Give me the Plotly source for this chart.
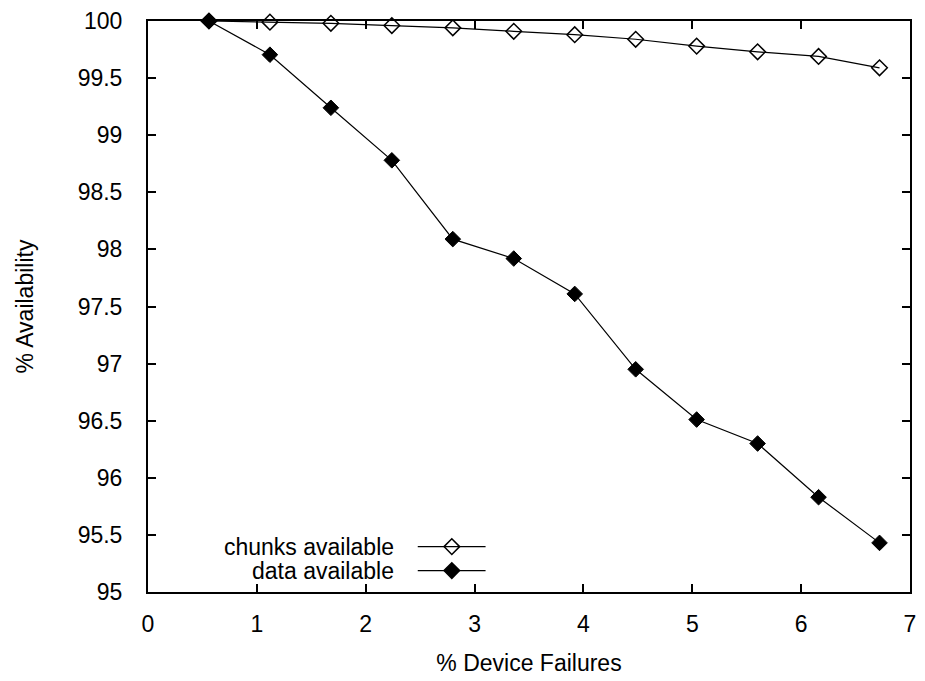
import plotly.graph_objects as go

device_failures = [0.56, 1.12, 1.68, 2.24, 2.80, 3.36, 3.92, 4.48, 5.04, 5.60, 6.16, 6.72]
chunks_available = [100.0, 99.99, 99.98, 99.96, 99.94, 99.91, 99.88, 99.84, 99.78, 99.73, 99.69, 99.59]
data_available = [100.0, 99.705, 99.24, 98.78, 98.09, 97.92, 97.61, 96.95, 96.51, 96.30, 95.83, 95.43]
series_names = ["chunks available", "data available"]
x_ticks = [0, 1, 2, 3, 4, 5, 6, 7]
y_ticks = [95, 95.5, 96, 96.5, 97, 97.5, 98, 98.5, 99, 99.5, 100]

FONT = "Liberation Sans, Arial, sans-serif"
FS = 23
fig = go.Figure()

fig.add_trace(go.Scatter(
    x=device_failures, y=chunks_available, mode="lines+markers", name=series_names[0],
    line=dict(color="black", width=1.2),
    marker=dict(symbol="diamond-open", size=12, color="black", line=dict(width=1.5, color="black")),
    cliponaxis=False, showlegend=False))
fig.add_trace(go.Scatter(
    x=device_failures, y=data_available, mode="lines+markers", name=series_names[1],
    line=dict(color="black", width=1.2),
    marker=dict(symbol="diamond", size=12, color="black", line=dict(width=1, color="black")),
    cliponaxis=False, showlegend=False))

# custom gnuplot-style legend (text left, sample right) on hidden overlay axes
leg_rows = [0.0795, 0.0376]
leg_syms = ["diamond-open", "diamond"]
for name, yy, sym in zip(series_names, leg_rows, leg_syms):
    fig.add_trace(go.Scatter(
        x=[0.354, 0.443], y=[yy, yy], mode="lines", xaxis="x2", yaxis="y2",
        line=dict(color="black", width=1.2), showlegend=False, hoverinfo="skip"))
    fig.add_trace(go.Scatter(
        x=[0.3987], y=[yy], mode="markers", xaxis="x2", yaxis="y2",
        marker=dict(symbol=sym, size=12, color="black", line=dict(width=1.5, color="black")),
        showlegend=False, hoverinfo="skip", cliponaxis=False))
    fig.add_annotation(x=0.325, y=yy, xref="paper", yref="paper", text=name,
                       showarrow=False, xanchor="right", yanchor="middle",
                       font=dict(family=FONT, size=FS, color="black"))

axis_common = dict(
    showline=True, linecolor="black", linewidth=2, mirror="ticks",
    ticks="inside", ticklen=8, tickwidth=1.5, tickcolor="black",
    showgrid=False, zeroline=False, automargin=False,
    tickfont=dict(family=FONT, size=FS, color="black"),
)

fig.update_layout(
    width=925, height=681,
    margin=dict(l=148, r=14.5, t=20.5, b=88.5),
    paper_bgcolor="white", plot_bgcolor="white",
    xaxis=dict(range=[0, 7], tickvals=x_ticks, ticklabelstandoff=10,
               title=dict(text="% Device Failures", font=dict(family=FONT, size=FS, color="black"), standoff=19),
               **axis_common),
    yaxis=dict(range=[95, 100], tickvals=y_ticks, ticklabelstandoff=19,
               title=dict(text="% Availability", font=dict(family=FONT, size=FS, color="black"), standoff=38),
               **axis_common),
    xaxis2=dict(range=[0, 1], overlaying="x", visible=False),
    yaxis2=dict(range=[0, 1], overlaying="y", visible=False),
    showlegend=False,
)

fig.write_html("out.html")
